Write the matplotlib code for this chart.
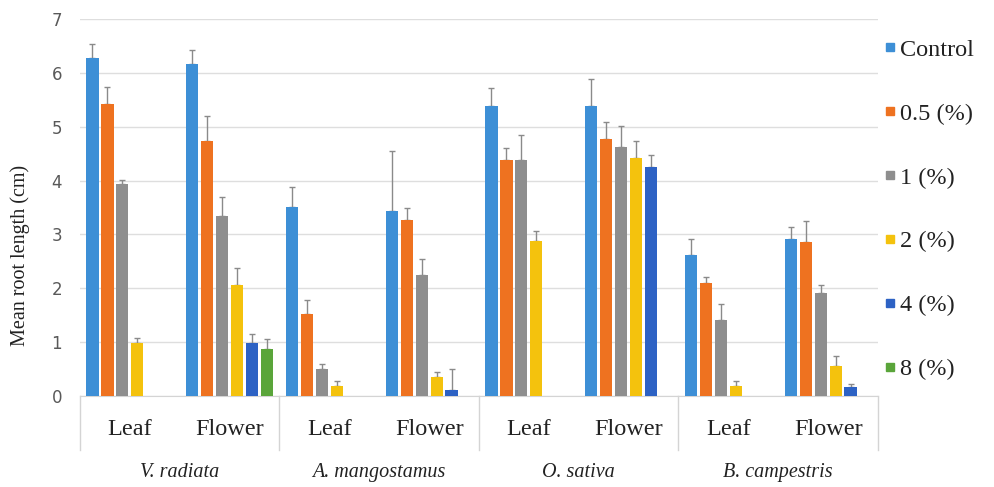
import numpy as np
import matplotlib
matplotlib.use("Agg")
import matplotlib.pyplot as plt
from matplotlib.lines import Line2D
from matplotlib.transforms import blended_transform_factory

# ---- data ----
species = ["V. radiata", "A. mangostamus", "O. sativa", "B. campestris"]
parts = ["Leaf", "Flower"]
series = ["Control", "0.5 (%)", "1 (%)", "2 (%)", "4 (%)", "8 (%)"]
categories = [p for s in species for p in parts]

# mean root length per category (order: VrL, VrF, AmL, AmF, OsL, OsF, BcL, BcF); nan = no bar
control = [6.28, 6.17, 3.51, 3.44, 5.39, 5.39, 2.61, 2.91]
c05 = [5.43, 4.74, 1.53, 3.26, 4.39, 4.77, 2.09, 2.85]
c1 = [3.93, 3.35, 0.51, 2.24, 4.39, 4.63, 1.41, 1.92]
c2 = [0.98, 2.06, 0.19, 0.35, 2.87, 4.41, 0.19, 0.56]
c4 = [np.nan, 0.99, np.nan, 0.12, np.nan, 4.26, np.nan, 0.17]
c8 = [np.nan, 0.88, np.nan, np.nan, np.nan, np.nan, np.nan, np.nan]

# upper error bar tops
control_err_top = [6.53, 6.42, 3.88, 4.54, 5.71, 5.89, 2.91, 3.14]
c05_err_top = [5.73, 5.20, 1.78, 3.49, 4.60, 5.08, 2.21, 3.25]
c1_err_top = [4.01, 3.69, 0.60, 2.54, 4.85, 5.01, 1.70, 2.06]
c2_err_top = [1.08, 2.38, 0.28, 0.44, 3.06, 4.73, 0.28, 0.74]
c4_err_top = [np.nan, 1.16, np.nan, 0.51, np.nan, 4.48, np.nan, 0.22]
c8_err_top = [np.nan, 1.06, np.nan, np.nan, np.nan, np.nan, np.nan, np.nan]

values = [control, c05, c1, c2, c4, c8]
err_tops = [control_err_top, c05_err_top, c1_err_top, c2_err_top, c4_err_top, c8_err_top]
colors = ["#3d8fd6", "#ee7220", "#8e8e8e", "#f4c20d", "#2d62c4", "#5aa53a"]

# ---- plot ----
fig = plt.figure(figsize=(9.95, 4.87), dpi=100)
ax = fig.add_axes([0.0804, 0.1869, 0.802, 0.7741])

x = np.arange(len(categories))
slot = 0.15
bw = 0.122
handles = []
for j, (vals, tops, col, name) in enumerate(zip(values, err_tops, colors, series)):
    v = np.array(vals, dtype=float)
    t = np.array(tops, dtype=float)
    xs = x + (j - 2.5) * slot
    ax.bar(xs, np.nan_to_num(v), width=bw, color=col, zorder=3)
    up = t - v
    ax.errorbar(xs, v, yerr=[np.zeros_like(up), up], fmt="none",
                ecolor="#8a8a8a", elinewidth=1.0, capsize=2.5, capthick=1.0, zorder=2)
    handles.append(Line2D([], [], marker="s", linestyle="none", markersize=6.3,
                          markerfacecolor=col, markeredgecolor=col, label=name))

ax.set_xlim(-0.5, len(categories) - 0.5)
ax.set_ylim(0, 7)
ax.set_yticks(range(0, 8))
ax.yaxis.grid(True, color="#dedede", linewidth=1.0, zorder=0)
ax.set_axisbelow(True)
for s in ["top", "right", "left"]:
    ax.spines[s].set_visible(False)
ax.spines["bottom"].set_color("#d4d4d4")
ax.tick_params(axis="y", length=0, pad=13, labelsize=12, labelcolor="#595959")
ax.set_xticks(x)
ax.set_xticklabels(categories, fontsize=17.5, family="Liberation Serif", color="#222222")
ax.tick_params(axis="x", length=0, pad=16.5)
ax.set_ylabel("Mean root length (cm)", family="Liberation Serif", fontsize=14.5,
              color="#222222")
ax.yaxis.set_label_coords(-0.0627, 0.374)

trans = blended_transform_factory(ax.transData, ax.transAxes)
for b in np.arange(-0.5, len(categories), 2):
    ax.plot([b, b], [0, -0.143], transform=trans, color="#d4d4d4", lw=1.0, clip_on=False)
for i, sp in enumerate(species):
    ax.text(2 * i + 0.5, -0.204, sp, transform=trans, ha="center", va="center",
            fontsize=14.5, style="italic", family="Liberation Serif", color="#222222")

leg = fig.legend(handles=handles, loc="upper left", bbox_to_anchor=(0.880, 0.94),
                 frameon=False, prop={"family": "Liberation Serif", "size": 17.5},
                 handlelength=0.4, handletextpad=0.22,
                 labelspacing=1.72, borderaxespad=0)
for t in leg.get_texts():
    t.set_color("#222222")

fig.savefig("out.png", dpi=100)
